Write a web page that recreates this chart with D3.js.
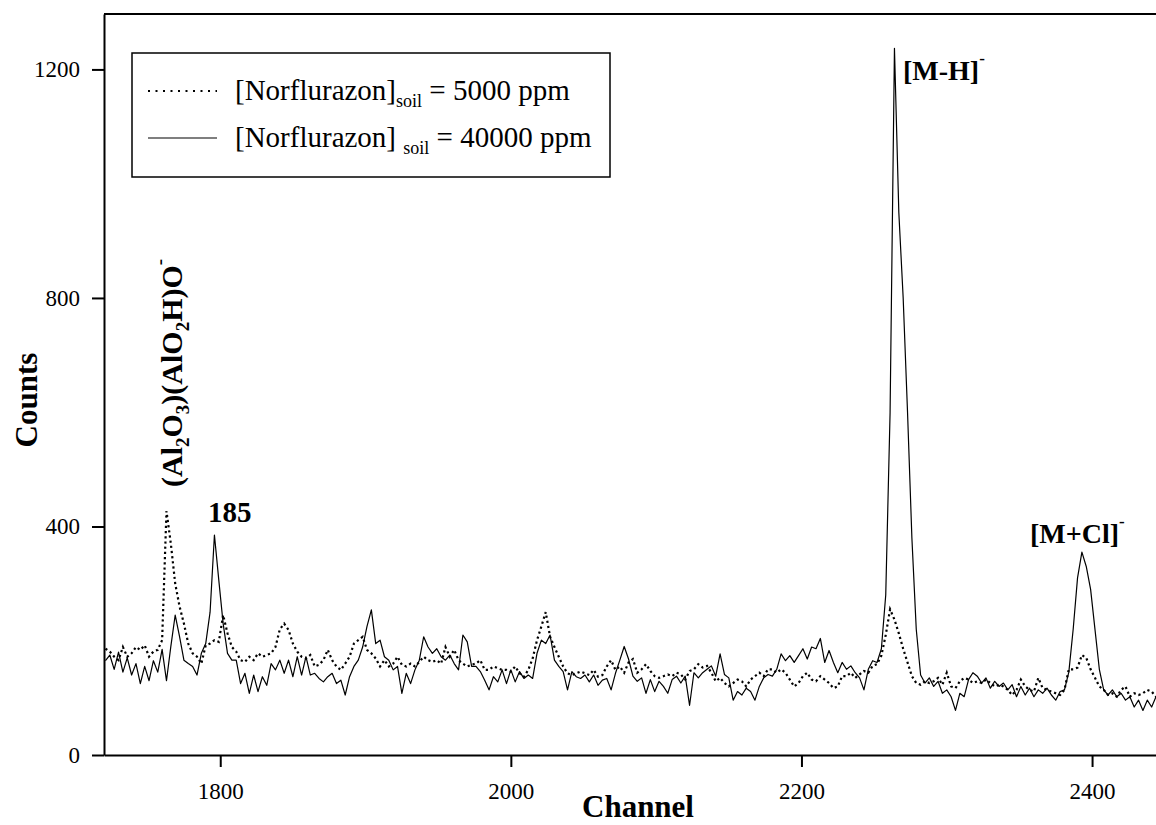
<html>

<head>
    <meta charset="utf-8">
    <script src="https://d3js.org/d3.v7.min.js"></script>
    <style>
        body { margin: 0; background: #fff; }
        svg text { font-family: "Liberation Serif", "Times New Roman", serif; }
    </style>
</head>

<body>
    <script>

        // channel grid of the sampled spectra (every 3rd channel)
        var channels = d3.range(1721, 2448, 3);

        // [Norflurazon]soil = 5000 ppm (dotted)
        var counts5000 = [
            186, 181, 172, 166, 189, 172, 178, 189, 184, 192,
            172, 181, 184, 201, 427, 370, 300, 260, 230, 195,
            178, 172, 160, 192, 195, 201, 198, 245, 213, 189,
            181, 166, 163, 172, 166, 178, 172, 175, 178, 189,
            220, 230, 219, 195, 181, 172, 169, 175, 155, 158,
            166, 184, 166, 155, 149, 160, 172, 195, 201, 207,
            184, 178, 169, 155, 166, 155, 160, 172, 158, 155,
            160, 155, 163, 172, 166, 163, 166, 160, 189, 172,
            184, 166, 160, 155, 158, 160, 166, 149, 149, 155,
            152, 149, 149, 146, 155, 143, 137, 149, 169, 201,
            225, 250, 207, 189, 172, 155, 143, 140, 143, 146,
            143, 140, 149, 137, 140, 155, 166, 149, 155, 144,
            162, 168, 144, 150, 159, 147, 138, 135, 138, 141,
            138, 144, 141, 132, 147, 150, 159, 153, 156, 144,
            129, 135, 126, 120, 126, 132, 129, 120, 132, 138,
            144, 138, 150, 150, 144, 150, 144, 132, 120, 126,
            138, 144, 132, 129, 138, 132, 126, 117, 120, 138,
            138, 144, 135, 141, 147, 144, 156, 159, 174, 210,
            255, 237, 213, 186, 162, 138, 126, 123, 129, 126,
            129, 135, 123, 144, 120, 117, 129, 135, 132, 126,
            129, 126, 132, 126, 120, 123, 120, 114, 105, 114,
            132, 120, 114, 111, 135, 117, 114, 111, 108, 105,
            114, 150, 150, 153, 175, 170, 150, 135, 120, 114,
            105, 108, 102, 114, 120, 102, 108, 105, 108, 114,
            111, 102, 100
        ];

        // [Norflurazon]soil = 40000 ppm (solid)
        var counts40000 = [
            165, 175, 150, 180, 145, 170, 140, 160, 125, 155,
            130, 165, 145, 185, 130, 190, 245, 207, 166, 160,
            155, 140, 178, 195, 250, 385, 306, 230, 178, 166,
            166, 125, 143, 108, 140, 111, 137, 122, 160, 149,
            166, 143, 166, 137, 172, 140, 172, 140, 143, 134,
            128, 137, 143, 125, 131, 105, 137, 155, 166, 189,
            225, 254, 195, 201, 172, 166, 149, 155, 108, 143,
            125, 149, 166, 207, 189, 178, 186, 172, 166, 175,
            160, 149, 210, 198, 155, 155, 146, 131, 114, 137,
            128, 149, 125, 149, 128, 146, 134, 140, 134, 178,
            201, 195, 210, 166, 155, 146, 114, 146, 137, 134,
            140, 128, 140, 122, 131, 134, 114, 143, 166, 190,
            168, 138, 129, 135, 108, 132, 111, 129, 120, 108,
            132, 138, 126, 138, 87, 144, 135, 144, 150, 156,
            138, 177, 141, 135, 96, 111, 105, 117, 111, 96,
            120, 135, 141, 138, 150, 177, 165, 174, 162, 174,
            186, 168, 189, 186, 204, 162, 183, 162, 144, 162,
            150, 156, 144, 135, 114, 150, 165, 162, 186, 280,
            600, 1237, 950, 800, 600, 380, 220, 140, 126, 135,
            120, 129, 108, 114, 102, 78, 108, 102, 132, 144,
            138, 126, 135, 117, 129, 120, 126, 114, 123, 102,
            120, 105, 117, 102, 114, 108, 117, 105, 96, 111,
            114, 145, 220, 310, 355, 330, 290, 220, 150, 114,
            105, 114, 102, 108, 96, 102, 84, 96, 78, 96,
            84, 102, 90
        ];

        // 軸の目盛
        var xTicks = [1800, 2000, 2200, 2400];
        var yTicks = [0, 400, 800, 1200];

        // 凡例
        var legendMain = ["[Norflurazon]", "[Norflurazon] "];
        var legendTail = [" = 5000 ppm", " = 40000 ppm"];

        var width = 1156;
        var height = 825;
        var plotLeft = 104, plotRight = 1156, plotTop = 14, plotBottom = 755;
        var font = "'Liberation Serif', 'Times New Roman', serif";

        var svg = d3.select("body").append("svg").attr("width", width).attr("height", height)
            .style("display", "block").style("background", "#fff");

        var xScale = d3.scaleLinear().domain([1720, 2444]).range([plotLeft, plotRight]);
        var yScale = d3.scaleLinear().domain([0, 1297]).range([plotBottom, plotTop]);

        // clip
        svg.append("defs").append("clipPath").attr("id", "plotclip")
            .append("rect")
            .attr("x", plotLeft).attr("y", plotTop)
            .attr("width", plotRight - plotLeft).attr("height", plotBottom - plotTop);

        var line = d3.line()
            .x(function(d, i) { return xScale(channels[i]); })
            .y(function(d) { return yScale(d); });

        var plot = svg.append("g").attr("clip-path", "url(#plotclip)");

        plot.append("path")
            .attr("d", line(counts40000))
            .attr("fill", "none")
            .attr("stroke", "#000")
            .attr("stroke-width", 1.2)
            .attr("stroke-linejoin", "round");

        plot.append("path")
            .attr("d", line(counts5000))
            .attr("fill", "none")
            .attr("stroke", "#000")
            .attr("stroke-width", 2.2)
            .attr("stroke-dasharray", "2.2,3");

        // 軸
        var gx = svg.append("g")
            .attr("transform", "translate(0," + plotBottom + ")")
            .call(d3.axisBottom(xScale).tickValues(xTicks).tickFormat(d3.format("d"))
                .tickSize(12).tickSizeOuter(0).tickPadding(16));
        var gy = svg.append("g")
            .attr("transform", "translate(" + plotLeft + ",0)")
            .call(d3.axisLeft(yScale).tickValues(yTicks).tickFormat(d3.format("d"))
                .tickSize(12).tickSizeOuter(0).tickPadding(12));

        [gx, gy].forEach(function(g) {
            g.attr("font-family", font).attr("font-size", 23);
            g.selectAll("path, line").attr("stroke", "#000").attr("stroke-width", 2);
            g.selectAll("text").attr("fill", "#000");
        });

        // top frame
        svg.append("line")
            .attr("x1", plotLeft).attr("x2", plotRight)
            .attr("y1", plotTop).attr("y2", plotTop)
            .attr("stroke", "#000").attr("stroke-width", 2);

        // 軸ラベル
        svg.append("text")
            .attr("x", 638).attr("y", 817)
            .attr("text-anchor", "middle")
            .attr("font-size", 31).attr("font-weight", "bold")
            .text("Channel");

        svg.append("text")
            .attr("transform", "translate(37,400) rotate(-90)")
            .attr("text-anchor", "middle")
            .attr("font-size", 31).attr("font-weight", "bold")
            .text("Counts");

        // 凡例
        var legend = svg.append("g");
        legend.append("rect")
            .attr("x", 132).attr("y", 53).attr("width", 478).attr("height", 124)
            .attr("fill", "#fff").attr("stroke", "#000").attr("stroke-width", 1.5);

        var rowY = [91, 138];
        var dashes = ["2,5.5", null];
        rowY.forEach(function(y, i) {
            legend.append("line")
                .attr("x1", 148).attr("x2", 217).attr("y1", y).attr("y2", y)
                .attr("stroke", "#000")
                .attr("stroke-width", dashes[i] ? 2 : 1.2)
                .attr("stroke-dasharray", dashes[i]);

            var t = legend.append("text")
                .attr("x", 235).attr("y", y + 9)
                .attr("font-size", 29)
                .style("white-space", "pre");
            t.append("tspan").text(legendMain[i]);
            t.append("tspan").attr("font-size", 18).attr("dy", 7).text("soil");
            t.append("tspan").attr("dy", -7).text(legendTail[i]);
        });

        // ピーク注記
        function boldText(x, y, size) {
            return svg.append("text")
                .attr("x", x).attr("y", y)
                .attr("font-size", size).attr("font-weight", "bold");
        }

        boldText(208, 522, 29).text("185");

        var mh = boldText(903, 80, 28);
        mh.append("tspan").text("[M-H]");
        mh.append("tspan").attr("font-size", 17).attr("dy", -16).text("-");

        var mcl = boldText(1030, 543, 28);
        mcl.append("tspan").text("[M+Cl]");
        mcl.append("tspan").attr("font-size", 17).attr("dy", -16).text("-");

        var al = svg.append("text")
            .attr("transform", "translate(182,487) rotate(-90)")
            .attr("font-size", 30).attr("font-weight", "bold");
        [["(Al", 0], ["2", 1], ["O", 0], ["3", 1], [")(AlO", 0], ["2", 1], ["H)O", 0], ["-", 2]]
            .forEach(function(p, i, arr) {
                var prev = i > 0 ? arr[i - 1][1] : 0;
                var shift = { 0: 0, 1: 7, 2: -16 };
                al.append("tspan")
                    .attr("font-size", p[1] === 0 ? 30 : 19)
                    .attr("dy", shift[p[1]] - shift[prev])
                    .text(p[0]);
            });
    </script>
</body>

</html>
